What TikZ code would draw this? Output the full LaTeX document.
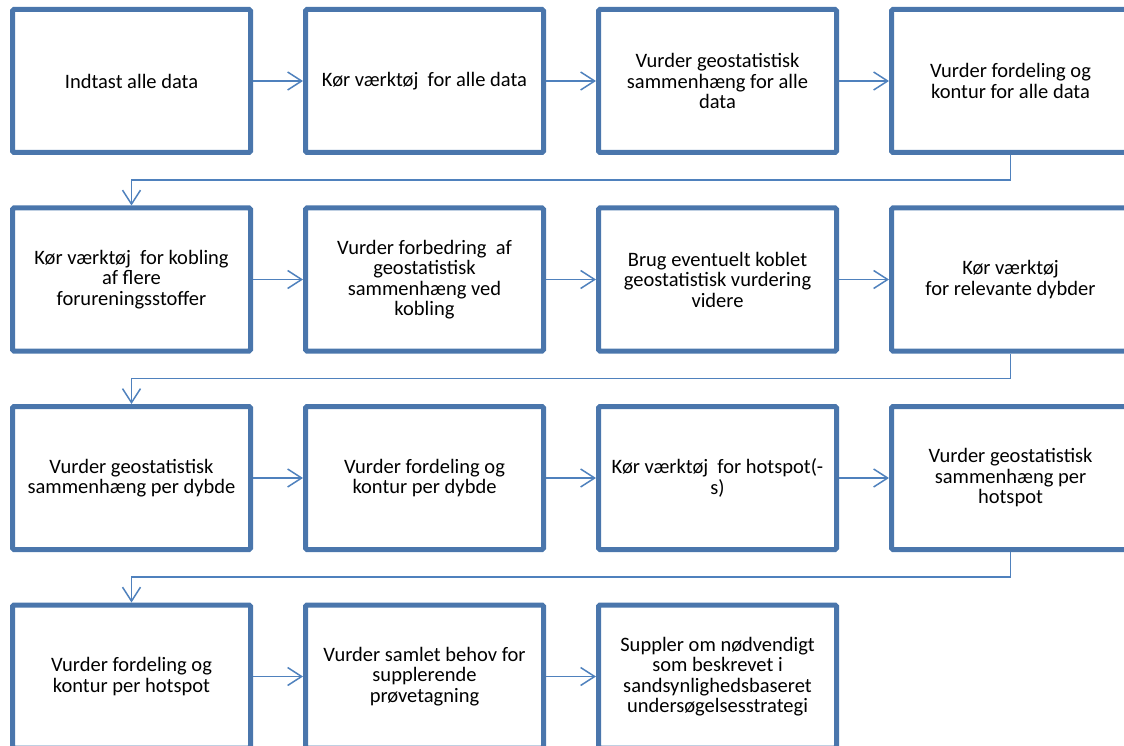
\documentclass[tikz,border=0pt]{standalone}
\usepackage{fontspec}
\setmainfont{Carlito}
\usetikzlibrary{arrows.meta,positioning}
\definecolor{boxblue}{RGB}{74,118,172}
\definecolor{arrblue}{RGB}{79,129,189}
\begin{document}
\begin{tikzpicture}
        [x=1pt,y=-1pt,
        task/.style={draw=boxblue,line width=5pt,rounded corners=1.5pt,
          minimum width=238pt,minimum height=143pt,inner sep=0pt,
          align=center,font=\fontsize{20.5}{20.5}\selectfont},
        arr/.style={->,>={Straight Barb[length=14pt,width=18pt]},draw=arrblue,line width=1.5pt}]
        \useasboundingbox (0,0) rectangle (1124,746);
        \clip (0,0) rectangle (1124,746);
        \node (t1) at (131.5,81) [task] {Indtast alle data};
        \node (t2) at (424.5,81) [task] {Kør værktøj\ \ for alle data};
        \node (t3) at (717.5,81) [task] {Vurder geostatistisk\\sammenhæng for alle\\data};
        \node (t4) at (1010.5,81) [task] {Vurder fordeling og\\kontur for alle data};
        \node (t5) at (131.5,279.5) [task] {Kør værktøj\ \ for kobling\\af flere\\forureningsstoffer};
        \node (t6) at (424.5,279.5) [task] {Vurder forbedring\ \ af\\geostatistisk\\sammenhæng ved\\kobling};
        \node (t7) at (717.5,279.5) [task] {Brug eventuelt koblet\\geostatistisk vurdering\\videre};
        \node (t8) at (1010.5,279.5) [task] {Kør værktøj\\for relevante dybder};
        \node (t9) at (131.5,478) [task] {Vurder geostatistisk\\sammenhæng per dybde};
        \node (t10) at (424.5,478) [task] {Vurder fordeling og\\kontur per dybde};
        \node (t11) at (717.5,478) [task] {Kør værktøj\ \ for hotspot(-\\s)};
        \node (t12) at (1010.5,478) [task] {Vurder geostatistisk\\sammenhæng per\\hotspot};
        \node (t13) at (131.5,676.5) [task] {Vurder fordeling og\\kontur per hotspot};
        \node (t14) at (424.5,676.5) [task] {Vurder samlet behov for\\supplerende\\prøvetagning};
        \node (t15) at (717.5,676.5) [task] {Suppler om nødvendigt\\som beskrevet i\\sandsynlighedsbaseret\\undersøgelsesstrategi};
        % steps within a row
        \foreach \a/\b in {t1/t2,t2/t3,t3/t4,t5/t6,t6/t7,t7/t8,t9/t10,t10/t11,t11/t12,t13/t14,t14/t15}
          \draw[arr] (\a) -- (\b);
        % from one row to the next
        \draw[arr] (t4.south) -- ++(0,25) -| (t5.north);
        \draw[arr] (t8.south) -- ++(0,25) -| (t9.north);
        \draw[arr] (t12.south) -- ++(0,25) -| (t13.north);
     \end{tikzpicture}
\end{document}
